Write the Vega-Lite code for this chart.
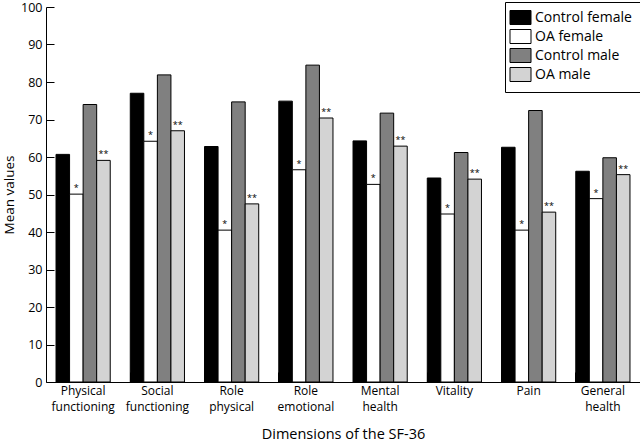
{
  "$schema": "https://vega.github.io/schema/vega-lite/v6.json",
  "autosize": {"type": "none"},
  "padding": {"left": 46, "top": 7, "right": 0, "bottom": 62},
  "width": 594,
  "height": 375,
  "config": {
    "font": "Open Sans",
    "view": {"stroke": null},
    "axis": {"domainColor": "#000", "tickColor": "#000", "labelColor": "#000", "titleColor": "#000", "titleFontWeight": "normal", "grid": false}
  },
  "data": {
    "values": [
      {"dimension": "Physical functioning", "group": "Control female", "value": 60.7, "sig": ""},
      {"dimension": "Physical functioning", "group": "OA female", "value": 50.1, "sig": "*"},
      {"dimension": "Physical functioning", "group": "Control male", "value": 74.0, "sig": ""},
      {"dimension": "Physical functioning", "group": "OA male", "value": 59.1, "sig": "**"},
      {"dimension": "Social functioning", "group": "Control female", "value": 77.0, "sig": ""},
      {"dimension": "Social functioning", "group": "OA female", "value": 64.2, "sig": "*"},
      {"dimension": "Social functioning", "group": "Control male", "value": 81.9, "sig": ""},
      {"dimension": "Social functioning", "group": "OA male", "value": 67.0, "sig": "**"},
      {"dimension": "Role physical", "group": "Control female", "value": 62.8, "sig": ""},
      {"dimension": "Role physical", "group": "OA female", "value": 40.5, "sig": "*"},
      {"dimension": "Role physical", "group": "Control male", "value": 74.7, "sig": ""},
      {"dimension": "Role physical", "group": "OA male", "value": 47.5, "sig": "**"},
      {"dimension": "Role emotional", "group": "Control female", "value": 74.9, "sig": ""},
      {"dimension": "Role emotional", "group": "OA female", "value": 56.6, "sig": "*"},
      {"dimension": "Role emotional", "group": "Control male", "value": 84.5, "sig": ""},
      {"dimension": "Role emotional", "group": "OA male", "value": 70.4, "sig": "**"},
      {"dimension": "Mental health", "group": "Control female", "value": 64.3, "sig": ""},
      {"dimension": "Mental health", "group": "OA female", "value": 52.7, "sig": "*"},
      {"dimension": "Mental health", "group": "Control male", "value": 71.7, "sig": ""},
      {"dimension": "Mental health", "group": "OA male", "value": 62.9, "sig": "**"},
      {"dimension": "Vitality", "group": "Control female", "value": 54.4, "sig": ""},
      {"dimension": "Vitality", "group": "OA female", "value": 44.8, "sig": "*"},
      {"dimension": "Vitality", "group": "Control male", "value": 61.2, "sig": ""},
      {"dimension": "Vitality", "group": "OA male", "value": 54.1, "sig": "**"},
      {"dimension": "Pain", "group": "Control female", "value": 62.6, "sig": ""},
      {"dimension": "Pain", "group": "OA female", "value": 40.5, "sig": "*"},
      {"dimension": "Pain", "group": "Control male", "value": 72.4, "sig": ""},
      {"dimension": "Pain", "group": "OA male", "value": 45.3, "sig": "**"},
      {"dimension": "General health", "group": "Control female", "value": 56.2, "sig": ""},
      {"dimension": "General health", "group": "OA female", "value": 48.9, "sig": "*"},
      {"dimension": "General health", "group": "Control male", "value": 59.8, "sig": ""},
      {"dimension": "General health", "group": "OA male", "value": 55.3, "sig": "**"}
    ]
  },
  "encoding": {
    "x": {
      "field": "dimension",
      "type": "nominal",
      "sort": null,
      "scale": {"paddingInner": 0.27, "paddingOuter": 0.135},
      "axis": {
        "title": "Dimensions of the SF-36",
        "titleFontSize": 14.5,
        "titlePadding": 15,
        "labelExpr": "split(datum.label, ' ')",
        "labelAngle": 0,
        "labelFontSize": 12,
        "labelLineHeight": 16,
        "labelPadding": 13,
        "bandPosition": 0,
        "tickSize": -10,
        "domainWidth": 1
      }
    },
    "xOffset": {
      "field": "group",
      "type": "nominal",
      "sort": ["Control female", "OA female", "Control male", "OA male"],
      "scale": {"paddingInner": 0, "paddingOuter": 0}
    },
    "y": {
      "field": "value",
      "type": "quantitative",
      "scale": {"domain": [0, 100], "nice": false},
      "axis": {
        "title": "Mean values",
        "titleFontSize": 13.5,
        "values": [0, 10, 20, 30, 40, 50, 60, 70, 80, 90, 100],
        "labelFontSize": 12.5,
        "labelPadding": 12,
        "tickSize": -8,
        "titlePadding": 4
      }
    }
  },
  "layer": [
    {
      "mark": {"type": "bar", "stroke": "#000", "strokeWidth": 1},
      "encoding": {
        "color": {
          "field": "group",
          "type": "nominal",
          "sort": ["Control female", "OA female", "Control male", "OA male"],
          "scale": {"domain": ["Control female", "OA female", "Control male", "OA male"], "range": ["#000000", "#ffffff", "#808080", "#d3d3d3"]},
          "legend": {
            "title": null,
            "orient": "none",
            "legendX": 459,
            "legendY": -5,
            "strokeColor": "#000",
            "padding": 8,
            "labelFontSize": 14,
            "labelColor": "#000",
            "rowPadding": 0,
            "symbolType": "M-1.5,-1L1.5,-1L1.5,1L-1.5,1Z",
            "symbolSize": 196,
            "symbolStrokeColor": "#000",
            "symbolStrokeWidth": 1,
            "symbolOpacity": 1,
            "labelOffset": 7
          }
        }
      }
    },
    {
      "mark": {"type": "text", "baseline": "bottom", "dy": -1, "fontSize": 9, "color": "#000"},
      "encoding": {
        "text": {"field": "sig"}
      }
    }
  ]
}
